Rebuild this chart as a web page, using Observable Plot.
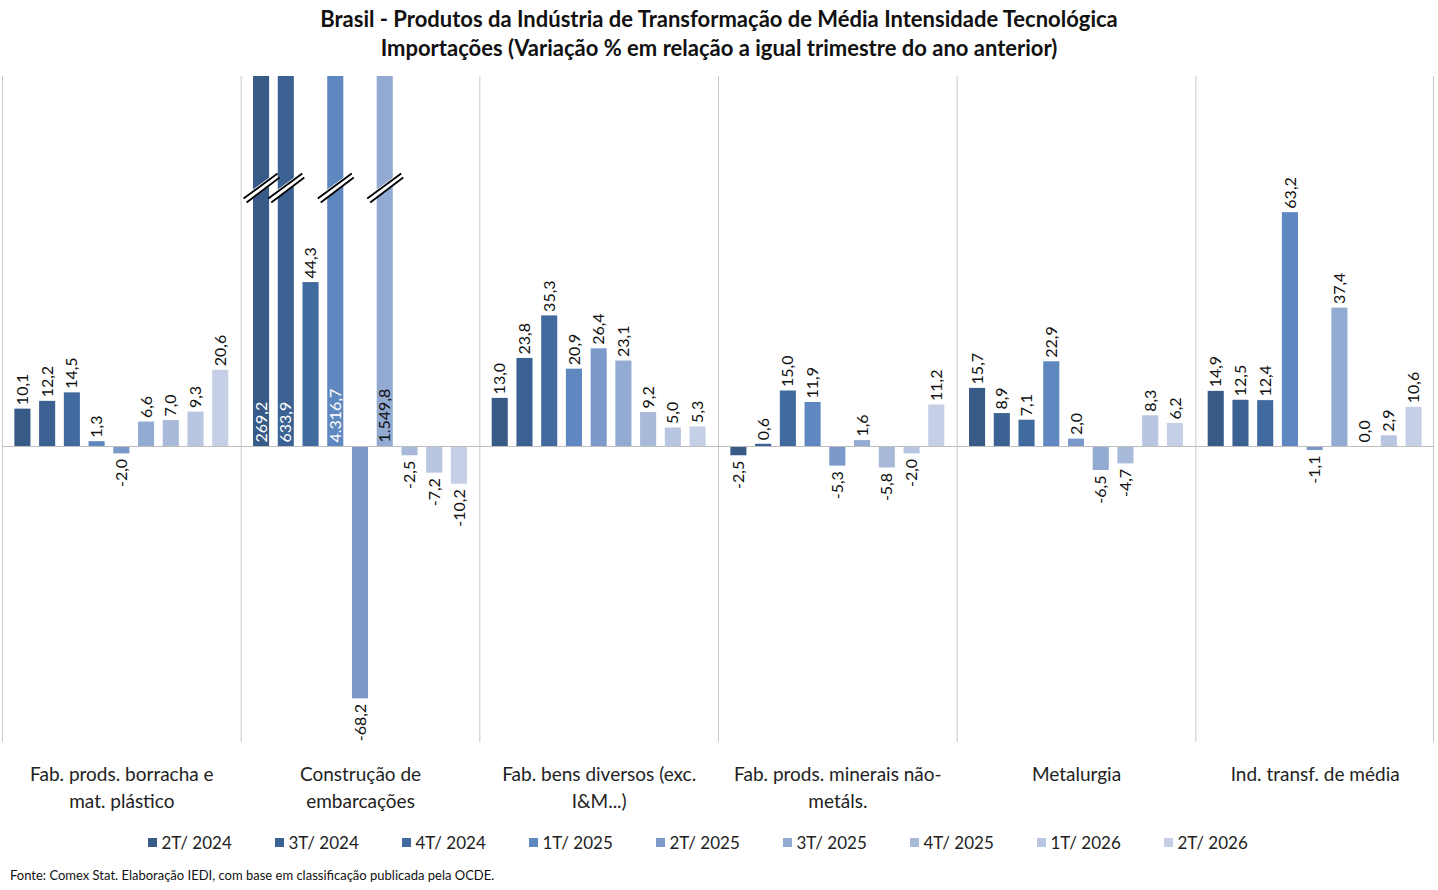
<!DOCTYPE html>
<html><head><meta charset="utf-8">
<script src="https://cdn.jsdelivr.net/npm/d3@7"></script>
<script src="https://cdn.jsdelivr.net/npm/@observablehq/plot@0.6"></script>
<style>
body{margin:0;background:#fff;font-family:Lato,"Open Sans",sans-serif;}
#title{text-align:center;font-weight:bold;font-size:22px;line-height:29px;padding-top:4px;height:66px;color:#111;}
#legend{display:flex;justify-content:center;gap:0;font-size:17px;color:#222;margin-top:16px;}
#legend span{display:inline-flex;align-items:center;width:127px;}
#legend i{display:inline-block;width:9px;height:9px;margin-right:5px;}
#foot{font-size:13px;margin:14px 0 0 10px;color:#111;}
</style></head><body>
<div id="title">Brasil - Produtos da Indústria de Transformação de Média Intensidade Tecnológica<br>Importações (Variação % em relação a igual trimestre do ano anterior)</div>
<div id="chart"></div>
<div id="legend"></div>
<div id="foot">Fonte: Comex Stat. Elaboração IEDI, com base em classificação publicada pela OCDE.</div>
<script>
const groups = ["Fab. prods. borracha e\nmat. plástico","Construção de\nembarcações","Fab. bens diversos (exc.\nI&M...)","Fab. prods. minerais não-\nmetáls.","Metalurgia","Ind. transf. de média"];
const series = ["2T/ 2024","3T/ 2024","4T/ 2024","1T/ 2025","2T/ 2025","3T/ 2025","4T/ 2025","1T/ 2026","2T/ 2026"];
const colors = ["#375a86","#3c6193","#416a9f","#5f88c0","#7b99c9","#93aad2","#a8b9da","#b8c6e2","#c5d0e6"];
const vBorracha = [10.1,12.2,14.5,1.3,-2.0,6.6,7.0,9.3,20.6];
const vEmbarc = [269.2,633.9,44.3,4316.7,-68.2,1549.8,-2.5,-7.2,-10.2];
const vDiversos = [13.0,23.8,35.3,20.9,26.4,23.1,9.2,5.0,5.3];
const vMinerais = [-2.5,0.6,15.0,11.9,-5.3,1.6,-5.8,-2.0,11.2];
const vMetal = [15.7,8.9,7.1,22.9,2.0,-6.5,-4.7,8.3,6.2];
const vMedia = [14.9,12.5,12.4,63.2,-1.1,37.4,0.0,2.9,10.6];
const all = [vBorracha,vEmbarc,vDiversos,vMinerais,vMetal,vMedia];
const YMAX = 100, YMIN = -80, BREAK = 70;
const data = [];
groups.forEach((g,gi)=>series.forEach((s,si)=>{
  const v = all[gi][si];
  data.push({g,s,si,v,vc:Math.min(v,YMAX),clip:v>YMAX});
}));
const fmt = d3.formatLocale({decimal:",",thousands:".",grouping:[3],minus:"-"}).format(",.1f");
const pos = data.filter(d=>d.v>=0 && !d.clip), neg = data.filter(d=>d.v<0), clipped = data.filter(d=>d.clip);
const W = 1438, ML = 2, MR = 4;
const fw = (W-ML-MR)/groups.length;
const pi = 0.35, po = 0.5;
const step = fw/(series.length - pi + 2*po);
const firstC = po*step + step*(1-pi)/2;
const plot = Plot.plot({
  width: W, height: 746, marginLeft: ML, marginRight: MR, marginTop: 6, marginBottom: 74,
  style:{fontFamily:"Lato, 'Open Sans', sans-serif", fontSize:"16px", color:"#111"},
  fx:{domain:groups, padding:0, label:null, round:false},
  x:{domain:series, paddingInner:pi, paddingOuter:po, axis:null, round:false},
  y:{domain:[YMIN,YMAX], axis:null},
  color:{domain:series, range:colors},
  marks:[
    Plot.ruleX(groups.map(g=>({g,s:series[0]})),{fx:"g",x:"s",dx:-firstC,y1:YMIN,y2:YMAX,stroke:"#c8c8c8"}),
    Plot.ruleX([{g:groups[groups.length-1],s:series[series.length-1]}],{fx:"g",x:"s",dx:firstC-1,y1:YMIN,y2:YMAX,stroke:"#c8c8c8"}),
    Plot.barY(data,{fx:"g",x:"s",y:"vc",fill:"s"}),
    Plot.ruleY([0],{stroke:"#bdbdbd"}),
    Plot.dot(clipped,{fx:"g",x:"s",y:()=>BREAK,symbol:{draw(c){c.moveTo(-15,11);c.lineTo(15,-11);}},stroke:"white",strokeWidth:7,r:5}),
    Plot.dot(clipped,{fx:"g",x:"s",y:()=>BREAK,symbol:{draw(c){c.moveTo(-18,11);c.lineTo(16,-14);c.moveTo(-15,15);c.lineTo(18,-10);}},stroke:"black",strokeWidth:1.8,r:5}),
    Plot.text(pos,{fx:"g",x:"s",y:"v",text:d=>fmt(d.v),rotate:-90,textAnchor:"start",dy:-4,fill:"#111"}),
    Plot.text(neg,{fx:"g",x:"s",y:"v",text:d=>fmt(d.v),rotate:-90,textAnchor:"end",dy:5,fill:"#111"}),
    Plot.text(clipped,{fx:"g",x:"s",y:()=>0,text:d=>fmt(d.v),rotate:-90,textAnchor:"start",dy:-4,fill:d=>d.si>=5?"#111":"white"}),
    Plot.axisFx({anchor:"bottom",tickSize:0,tickPadding:20,fontSize:19,lineHeight:1.4,label:null,fill:"#222"})
  ]
});
document.getElementById("chart").appendChild(plot);
const lg = document.getElementById("legend");
series.forEach((s,i)=>{const e=document.createElement("span");e.innerHTML=`<i style="background:${colors[i]}"></i>${s}`;lg.appendChild(e);});
</script></body></html>
